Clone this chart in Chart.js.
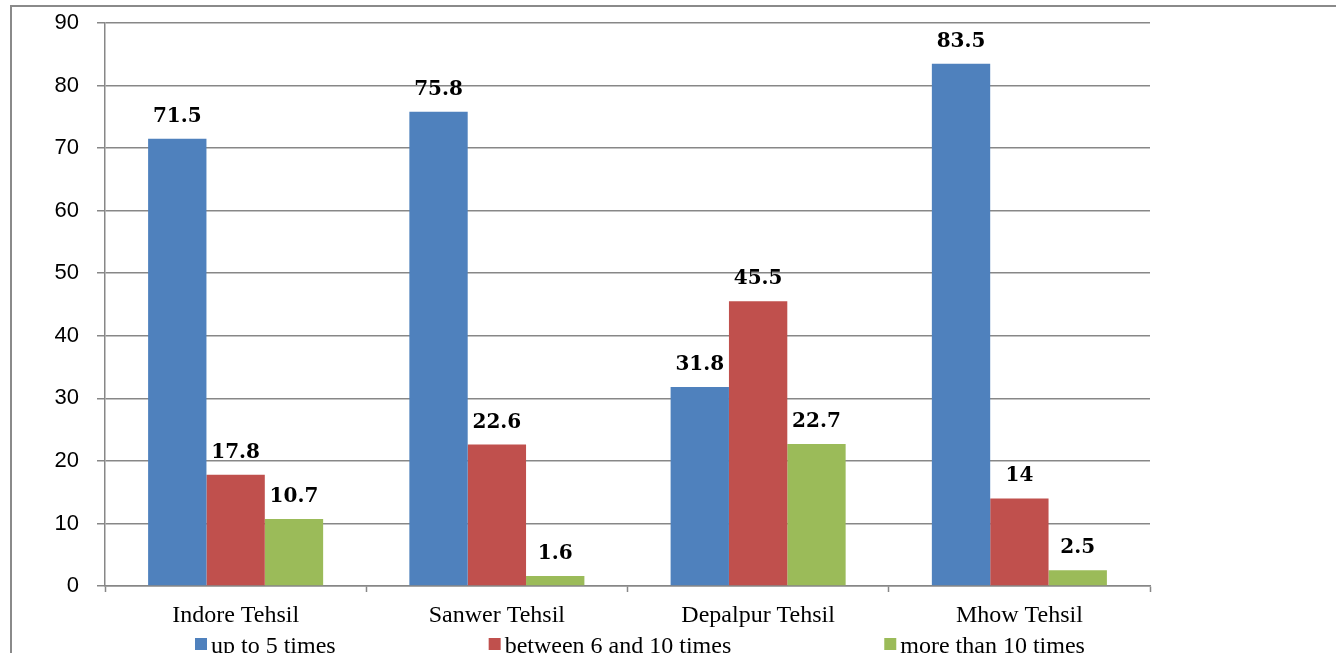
<!DOCTYPE html>
<html>
<head>
<meta charset="utf-8">
<title>Visits by Tehsil</title>
<script src="https://cdn.jsdelivr.net/npm/chart.js@4/dist/chart.umd.min.js"></script>
<style>
  html, body { margin: 0; padding: 0; background: #ffffff; overflow: hidden; }
  #wrap { position: relative; width: 1336px; height: 653px; overflow: hidden; }
  #frame {
    position: absolute; left: 10px; top: 5px; width: 1400px; height: 700px;
    border-left: 2px solid #8a8a8a; border-top: 2px solid #8a8a8a;
  }
  #chart { position: absolute; left: 0; top: 0; }
</style>
</head>
<body>
<div id="wrap">
  <div id="frame"></div>
  <canvas id="chart" width="1336" height="680"></canvas>
</div>
<script>
// Tehsils on the category axis
const categories = ['Indore Tehsil', 'Sanwer Tehsil', 'Depalpur Tehsil', 'Mhow Tehsil'];

// Share of respondents (%) per frequency group
const upTo5 = [71.5, 75.8, 31.8, 83.5];
const between6And10 = [17.8, 22.6, 45.5, 14];
const moreThan10 = [10.7, 1.6, 22.7, 2.5];

const seriesNames = ['up to 5 times', 'between 6 and 10 times', 'more than 10 times'];
const yTicks = [0, 10, 20, 30, 40, 50, 60, 70, 80, 90];

const colors = ['#4F81BD', '#C0504D', '#9BBB59'];
const gridColor = '#878787';

// Value labels above every bar
const valueLabels = {
  id: 'valueLabels',
  afterDatasetsDraw(chart) {
    const ctx = chart.ctx;
    ctx.save();
    ctx.font = 'bold 20px "DejaVu Serif"';
    ctx.fillStyle = '#000000';
    ctx.textAlign = 'center';
    ctx.textBaseline = 'alphabetic';
    chart.data.datasets.forEach((ds, i) => {
      const meta = chart.getDatasetMeta(i);
      meta.data.forEach((bar, j) => {
        ctx.fillText(String(ds.data[j]), bar.x, bar.y - 17);
      });
    });
    ctx.restore();
  }
};

// Legend row along the bottom edge
const bottomLegend = {
  id: 'bottomLegend',
  afterDraw(chart) {
    const ctx = chart.ctx;
    ctx.save();
    ctx.font = '24px "Liberation Serif"';
    ctx.textBaseline = 'alphabetic';
    ctx.textAlign = 'left';
    let x = 195;
    const baseline = 653;
    chart.data.datasets.forEach((ds) => {
      ctx.fillStyle = ds.backgroundColor;
      ctx.fillRect(x, 638, 12, 12);
      ctx.fillStyle = '#000000';
      const tx = x + 16;
      ctx.fillText(ds.label, tx, baseline);
      x = tx + ctx.measureText(ds.label).width + 153;
    });
    ctx.restore();
  }
};

const seriesData = [upTo5, between6And10, moreThan10];

new Chart(document.getElementById('chart'), {
  type: 'bar',
  data: {
    labels: categories,
    datasets: seriesData.map((values, i) => ({
      label: seriesNames[i],
      data: values,
      backgroundColor: colors[i],
      borderWidth: 0,
      categoryPercentage: 0.67,
      barPercentage: 1.0
    }))
  },
  options: {
    responsive: false,
    animation: false,
    layout: { padding: { left: 0, top: 9, right: 186, bottom: 0 } },
    plugins: {
      legend: { display: false },
      tooltip: { enabled: false },
      title: { display: false }
    },
    scales: {
      x: {
        offset: true,
        afterFit(scale) { scale.height = 94; },
        grid: {
          offset: true,
          drawOnChartArea: false,
          drawTicks: true,
          tickLength: 6,
          tickColor: gridColor,
          tickWidth: 1.5
        },
        border: { display: true, color: gridColor, width: 1.5 },
        ticks: {
          color: '#000000',
          padding: 9,
          maxRotation: 0,
          font: { family: '"Liberation Serif"', size: 24 }
        }
      },
      y: {
        min: 0,
        max: 90,
        afterFit(scale) { scale.width = 105; },
        afterBuildTicks(scale) { scale.ticks = yTicks.map(v => ({ value: v })); },
        grid: {
          color: gridColor,
          lineWidth: 1.5,
          drawTicks: true,
          tickLength: 8,
          tickColor: gridColor
        },
        border: { display: true, color: gridColor, width: 1.5 },
        ticks: {
          color: '#000000',
          padding: 18,
          font: { family: '"Liberation Sans"', size: 22, lineHeight: 10 / 22 }
        }
      }
    }
  },
  plugins: [valueLabels, bottomLegend]
});
</script>
</body>
</html>
